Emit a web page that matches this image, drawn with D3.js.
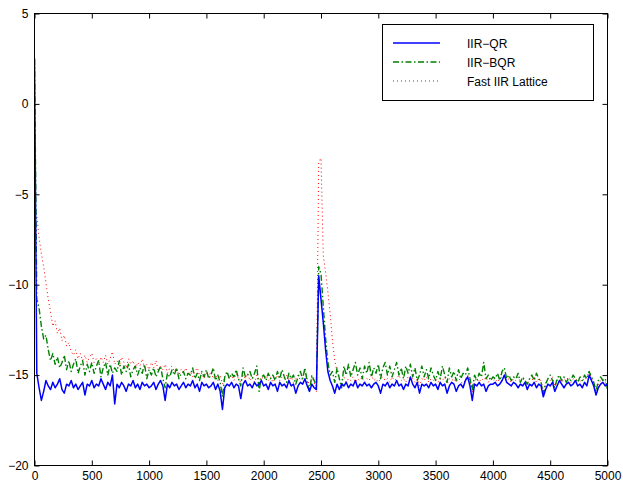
<!DOCTYPE html>
<html><head><meta charset="utf-8">
<script src="https://cdn.jsdelivr.net/npm/d3@7"></script>
<style>body{margin:0;background:#fff}svg{display:block}text{font-family:"Liberation Sans",Arial,sans-serif}</style>
</head><body><svg id="c" width="623" height="484"></svg>
<script>
// sample spacing along x (iterations)
const STEP = 20;
const seriesNames = ["IIR\u2212QR", "IIR\u2212BQR", "Fast IIR Lattice"];
const xTicks = [0,500,1000,1500,2000,2500,3000,3500,4000,4500,5000];
const yTicks = [-20,-15,-10,-5,0,5];

const qr = [
 2.5,-14.9,-15.7,-16.4,-15.9,-15.3,-15.6,-15.8,-15.4,-15.7,
 -15.5,-15.2,-15.8,-16.0,-15.5,-15.6,-15.3,-15.7,-15.5,-15.8,
 -15.6,-15.4,-16.1,-15.5,-15.6,-15.3,-15.7,-15.5,-15.6,-15.2,
 -15.5,-15.8,-15.4,-15.6,-15.0,-16.6,-15.5,-15.7,-15.4,-15.6,
 -15.9,-15.5,-15.6,-15.3,-15.7,-15.5,-15.8,-15.4,-15.6,-15.5,
 -15.7,-15.6,-15.4,-15.8,-15.5,-15.3,-15.6,-16.4,-15.5,-15.7,
 -15.4,-15.6,-15.5,-15.8,-15.6,-15.4,-15.7,-15.5,-15.6,-15.3,
 -15.7,-15.5,-15.9,-15.4,-15.6,-15.5,-15.7,-15.6,-15.4,-15.8,
 -15.5,-15.9,-16.9,-15.7,-15.5,-15.6,-15.4,-15.7,-15.5,-15.6,
 -16.3,-15.5,-15.3,-15.6,-15.5,-15.7,-15.4,-15.6,-15.5,-15.3,
 -15.6,-15.5,-15.8,-15.4,-15.6,-15.5,-15.9,-15.4,-15.6,-15.5,
 -15.7,-15.3,-15.6,-15.5,-16.0,-15.6,-15.4,-15.5,-15.2,-15.6,
 -15.9,-15.5,-15.7,-15.8,-9.5,-10.8,-12.1,-13.6,-14.8,-15.3,
 -15.6,-16.0,-15.5,-15.8,-15.5,-15.6,-15.4,-15.7,-15.5,-15.6,
 -15.3,-15.7,-15.5,-15.6,-15.4,-15.6,-15.5,-15.7,-15.5,-15.4,
 -15.6,-16.0,-15.5,-15.6,-15.4,-15.7,-15.5,-15.6,-15.3,-15.6,
 -15.5,-15.8,-15.5,-15.6,-15.1,-15.5,-15.7,-15.4,-16.0,-15.5,
 -15.6,-15.5,-15.7,-15.4,-15.6,-15.5,-15.8,-15.4,-15.6,-15.5,
 -16.0,-15.6,-15.4,-15.5,-15.9,-15.6,-15.5,-15.7,-15.3,-15.1,
 -15.6,-16.4,-15.5,-15.6,-15.4,-15.6,-15.5,-15.9,-15.6,-15.5,
 -15.5,-15.4,-15.6,-15.5,-15.3,-15.0,-15.4,-15.5,-15.6,-15.4,
 -15.5,-15.7,-15.5,-15.6,-15.4,-15.8,-15.5,-15.6,-15.4,-15.7,
 -15.5,-15.6,-16.2,-15.8,-15.5,-15.6,-15.4,-15.9,-15.6,-15.3,
 -15.5,-15.7,-15.5,-15.4,-15.6,-15.5,-15.3,-15.6,-15.5,-15.7,
 -15.4,-15.6,-15.0,-15.3,-15.6,-16.1,-15.7,-15.5,-15.4,-15.6,
 -15.5
];
const bqr = [
 2.5,-10.8,-11.3,-12.3,-13.0,-12.8,-13.6,-14.2,-13.8,-14.4,
 -14.0,-14.6,-14.3,-13.9,-14.7,-14.2,-14.8,-14.4,-14.1,-14.9,
 -14.5,-14.2,-15.0,-14.4,-14.8,-14.3,-14.9,-14.5,-14.2,-15.1,
 -14.6,-14.3,-15.0,-14.4,-14.9,-14.6,-14.8,-14.2,-15.0,-14.5,
 -14.8,-14.4,-15.1,-14.7,-14.5,-15.0,-14.6,-14.9,-14.4,-15.2,
 -14.7,-15.0,-14.6,-15.1,-14.8,-14.5,-15.2,-15.7,-14.9,-15.1,
 -14.7,-15.0,-14.6,-15.2,-14.9,-14.8,-15.2,-14.9,-15.0,-14.6,
 -15.2,-14.9,-15.3,-14.8,-15.1,-14.7,-15.2,-15.0,-14.6,-15.3,
 -15.0,-15.4,-16.2,-15.1,-14.8,-15.2,-14.9,-15.1,-14.7,-15.2,
 -15.6,-14.6,-15.1,-15.0,-14.8,-15.2,-14.9,-14.5,-15.9,-15.1,
 -15.0,-15.3,-14.9,-15.2,-15.0,-15.3,-14.8,-15.2,-14.7,-15.1,
 -15.4,-14.9,-15.2,-15.0,-15.5,-15.1,-14.8,-15.2,-14.6,-15.4,
 -15.9,-15.0,-15.3,-15.6,-9.0,-9.4,-11.2,-13.0,-14.3,-15.0,
 -14.8,-15.4,-14.6,-15.2,-15.7,-14.5,-15.0,-14.4,-15.1,-14.7,
 -14.3,-15.0,-14.6,-15.2,-14.5,-14.9,-14.3,-15.1,-14.6,-14.9,
 -14.4,-15.2,-14.6,-14.3,-15.0,-14.5,-15.1,-14.7,-14.3,-15.0,
 -14.6,-15.2,-14.5,-14.9,-14.4,-15.1,-14.6,-15.3,-15.0,-14.5,
 -15.1,-14.7,-15.2,-14.6,-15.0,-15.3,-14.8,-15.2,-14.5,-15.0,
 -15.4,-14.6,-15.1,-14.8,-15.3,-14.7,-15.2,-14.9,-15.0,-14.6,
 -15.2,-15.8,-15.0,-15.3,-14.9,-15.1,-14.3,-15.2,-15.0,-15.3,
 -15.1,-15.2,-14.9,-15.3,-14.8,-14.6,-15.2,-15.0,-15.3,-15.1,
 -15.2,-14.9,-15.4,-15.1,-15.3,-15.5,-15.2,-15.0,-15.3,-14.9,
 -15.2,-15.4,-16.1,-15.5,-15.2,-15.0,-15.3,-15.7,-15.2,-15.0,
 -15.3,-15.1,-15.4,-15.2,-15.3,-15.0,-15.2,-15.4,-15.1,-15.3,
 -15.0,-15.2,-14.8,-15.1,-15.4,-15.9,-15.3,-15.1,-15.3,-15.2,
 -15.8
];
const lattice = [
 -5.6,-6.2,-7.4,-8.3,-9.0,-9.9,-10.8,-11.5,-12.3,-12.0,
 -12.7,-12.4,-13.1,-12.8,-13.4,-13.2,-13.7,-13.9,-13.6,-14.1,
 -13.8,-14.2,-13.9,-14.3,-14.0,-13.8,-14.3,-14.1,-14.4,-14.0,
 -14.3,-13.9,-14.4,-14.1,-13.7,-14.4,-14.2,-14.5,-14.0,-14.3,
 -14.6,-14.1,-14.4,-14.2,-14.7,-14.3,-14.5,-14.1,-14.6,-14.4,
 -14.7,-14.3,-14.6,-14.2,-14.8,-14.5,-14.7,-14.4,-14.9,-14.6,
 -14.5,-14.8,-14.6,-15.0,-14.7,-14.9,-14.6,-15.0,-14.8,-15.1,
 -14.8,-14.6,-15.0,-14.9,-15.2,-14.9,-15.1,-14.8,-15.2,-15.0,
 -15.3,-15.0,-15.5,-15.1,-14.9,-15.2,-15.0,-15.3,-14.9,-15.2,
 -15.4,-15.0,-15.2,-14.9,-15.3,-15.1,-15.4,-15.0,-15.3,-15.1,
 -15.2,-15.0,-15.3,-15.1,-15.4,-15.2,-15.0,-15.3,-15.1,-15.2,
 -15.0,-15.3,-15.1,-15.4,-15.2,-15.0,-15.3,-15.1,-14.8,-15.2,
 -15.6,-15.1,-15.4,-15.9,-3.2,-3.0,-8.4,-9.3,-10.4,-11.6,
 -13.1,-14.2,-14.8,-15.2,-15.3,-15.1,-15.4,-15.2,-15.3,-15.1,
 -15.4,-15.2,-15.3,-15.1,-15.4,-15.2,-15.3,-15.0,-15.3,-15.2,
 -15.4,-15.2,-15.1,-15.3,-15.2,-15.4,-15.1,-15.3,-15.2,-15.0,
 -15.3,-15.2,-15.4,-15.1,-15.3,-15.2,-15.4,-15.2,-15.6,-15.2,
 -15.3,-15.1,-15.4,-15.2,-15.3,-15.2,-15.4,-15.2,-15.3,-15.1,
 -15.5,-15.2,-15.3,-15.2,-15.4,-15.2,-15.3,-15.6,-15.2,-15.0,
 -15.3,-16.0,-15.3,-15.2,-15.4,-15.2,-15.3,-15.1,-15.4,-15.2,
 -15.3,-15.2,-15.4,-15.2,-15.1,-15.0,-15.3,-15.2,-15.4,-15.2,
 -15.3,-15.1,-15.4,-15.2,-15.3,-15.5,-15.2,-15.3,-15.1,-15.4,
 -15.2,-15.3,-15.9,-15.4,-15.2,-15.3,-15.1,-15.6,-15.3,-15.2,
 -15.4,-15.2,-15.3,-15.1,-15.4,-15.2,-15.3,-15.2,-15.4,-15.2,
 -15.3,-15.1,-14.8,-15.2,-15.4,-15.9,-15.5,-15.3,-15.2,-15.4,
 -15.3
];

const svg = d3.select("#c");
const L = 34.5, R = 607.5, T = 13.5, B = 465.5;
const x = d3.scaleLinear().domain([0,5000]).range([L,R]);
const y = d3.scaleLinear().domain([-20,5]).range([B,T]);

const g = svg.append("g");
svg.append("clipPath").attr("id","pc").append("rect")
  .attr("x",L).attr("y",T).attr("width",R-L).attr("height",B-T);

const styles = [
  {data: qr, color:"#0000ff", dash:"none", w:1.5, lw:1.6},
  {data: bqr, color:"#008000", dash:"6,2.5,1.5,2.5", w:1.4, lw:1.6},
  {data: lattice, color:"#ff0000", dash:"1,3", w:1, lw:1.2}
];
const line = d3.line().x((d,i)=>x(i*STEP)).y(d=>y(d));
const plot = g.append("g").attr("clip-path","url(#pc)");
// draw lattice first, then BQR, then QR on top
[2,1,0].forEach(k=>{
  const s = styles[k];
  plot.append("path").attr("d", line(s.data))
    .style("fill","none").style("stroke", s.color).style("stroke-width", s.w)
    .style("stroke-linejoin","round").style("stroke-dasharray", s.dash);
});

// axes (ticks inward, box)
const tl = 5;
const ax = g.append("g").attr("transform",`translate(0,${B})`)
  .call(d3.axisBottom(x).tickValues(xTicks).tickSize(-tl).tickPadding(6).tickFormat(d3.format("d")));
const axT = g.append("g").attr("transform",`translate(0,${T})`)
  .call(d3.axisTop(x).tickValues(xTicks).tickSize(-tl).tickFormat(""));
const ay = g.append("g").attr("transform",`translate(${L},0)`)
  .call(d3.axisLeft(y).tickValues(yTicks).tickSize(-tl).tickPadding(6).tickFormat(d=>d<0?"\u2212"+(-d):d));
const ayR = g.append("g").attr("transform",`translate(${R},0)`)
  .call(d3.axisRight(y).tickValues(yTicks).tickSize(-tl).tickFormat(""));
[ax,axT,ay,ayR].forEach(a=>{
  a.select(".domain").remove();
  a.selectAll("line").attr("stroke","#000").attr("stroke-width",1);
  a.selectAll("text").attr("font-size",12).attr("fill","#000").attr("font-family","Liberation Sans, Arial, sans-serif");
});
g.append("rect").attr("x",L).attr("y",T).attr("width",R-L).attr("height",B-T)
  .attr("fill","none").attr("stroke","#000").attr("stroke-width",1);

// legend
const lg = svg.append("g");
lg.append("rect").attr("x",382.5).attr("y",24.5).attr("width",211).attr("height",76)
  .style("fill","#fff").style("stroke","#000").style("stroke-width",1);
seriesNames.forEach((n,i)=>{
  const yy = 43 + i*19;
  const s = styles[i];
  lg.append("path").attr("d",`M393,${yy}H440`)
    .style("fill","none").style("stroke",s.color).style("stroke-width",s.lw)
    .style("stroke-dasharray",s.dash);
  lg.append("text").attr("x",467).attr("y",yy+4.5).attr("font-size",12).style("fill","#000").text(n);
});
</script></body></html>
